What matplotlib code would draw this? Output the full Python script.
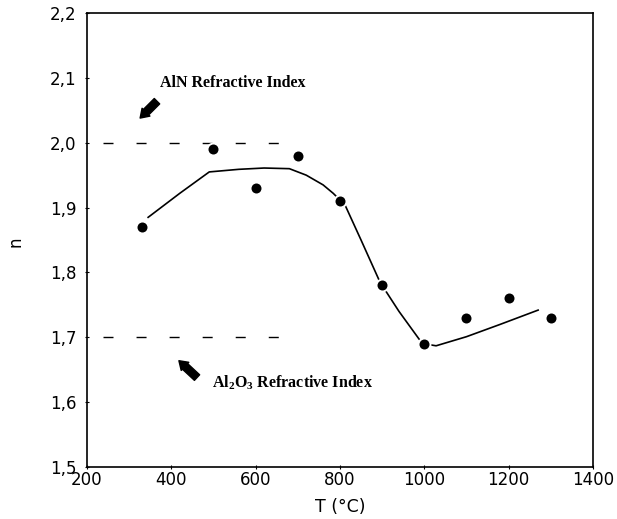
import matplotlib
matplotlib.use("Agg")
import matplotlib.pyplot as plt

# measured points
temp = [330, 500, 600, 700, 800, 900, 1000, 1100, 1200, 1300]
n_meas = [1.87, 1.99, 1.93, 1.98, 1.91, 1.78, 1.69, 1.73, 1.76, 1.73]

# hand drawn trend line
fit_t = [345, 420, 490, 560, 620, 680, 720, 760, 784, 812, 850, 895, 940, 988, 1000,
         1028, 1100, 1180, 1270]
fit_n = [1.885, 1.922, 1.955, 1.959, 1.961, 1.960, 1.950, 1.935, 1.922, 1.904, 1.850,
         1.785, 1.740, 1.697, 1.690, 1.687, 1.701, 1.720, 1.742]

# reference levels
ref_t = [238, 670]
aln_n = 2.0
al2o3_n = 1.7

xticks = [200, 400, 600, 800, 1000, 1200, 1400]
yticks = [1.5, 1.6, 1.7, 1.8, 1.9, 2.0, 2.1, 2.2]
ytick_labels = ["1,5", "1,6", "1,7", "1,8", "1,9", "2,0", "2,1", "2,2"]

plt.rcParams['font.family'] = ['DejaVu Sans']

fig = plt.figure(figsize=(6.17, 5.19), dpi=100)
ax = fig.add_axes([0.141, 0.100, 0.820, 0.875])

# dashed reference lines
ax.plot(ref_t, [aln_n, aln_n], color='black', lw=1.0, dashes=(7.2, 16.6))
ax.plot(ref_t, [al2o3_n, al2o3_n], color='black', lw=1.0, dashes=(7.2, 16.6))

ax.plot(fit_t, fit_n, color='black', lw=1.2, zorder=2)
ax.plot(temp, n_meas, 'o', color='black', ms=7.5, mec='white', mew=2.5, zorder=3)
ax.plot(temp, n_meas, 'o', color='black', ms=7.2, mec='black', mew=0, zorder=4)

# labels with arrows
arrow = dict(arrowstyle='simple,head_length=0.6,head_width=0.8,tail_width=0.55',
             color='black', shrinkA=0, shrinkB=0)
ax.text(373, 2.092, "AlN Refractive Index", family='Liberation Serif',
        fontweight='bold', fontsize=11.5, va='center', ha='left')
ax.annotate("", xy=(326, 2.038), xytext=(366, 2.064), arrowprops=arrow)
ax.text(496, 1.630, "Al$_\\mathregular{2}$O$_\\mathregular{3}$ Refractive Index",
        family='Liberation Serif', fontweight='bold', fontsize=11.5, va='center', ha='left')
ax.annotate("", xy=(418, 1.664), xytext=(461, 1.638), arrowprops=arrow)

ax.set_xlim(200, 1400)
ax.set_ylim(1.5, 2.2)
ax.set_xticks(xticks)
ax.set_xticklabels([str(v) for v in xticks])
ax.set_yticks(yticks)
ax.set_yticklabels(ytick_labels)
ax.tick_params(axis='both', direction='inout', length=3, width=0.8, labelsize=12)
ax.tick_params(axis='x', pad=1)
ax.tick_params(axis='y', pad=6)
for s in ax.spines.values():
    s.set_linewidth(1.2)

ax.set_xlabel("T (°C)", fontsize=12.5, labelpad=7)
fig.text(15 / 617, 1 - 242 / 519, "n", rotation=90, fontsize=12, va='center', ha='center')

fig.savefig("out.png", dpi=100)
